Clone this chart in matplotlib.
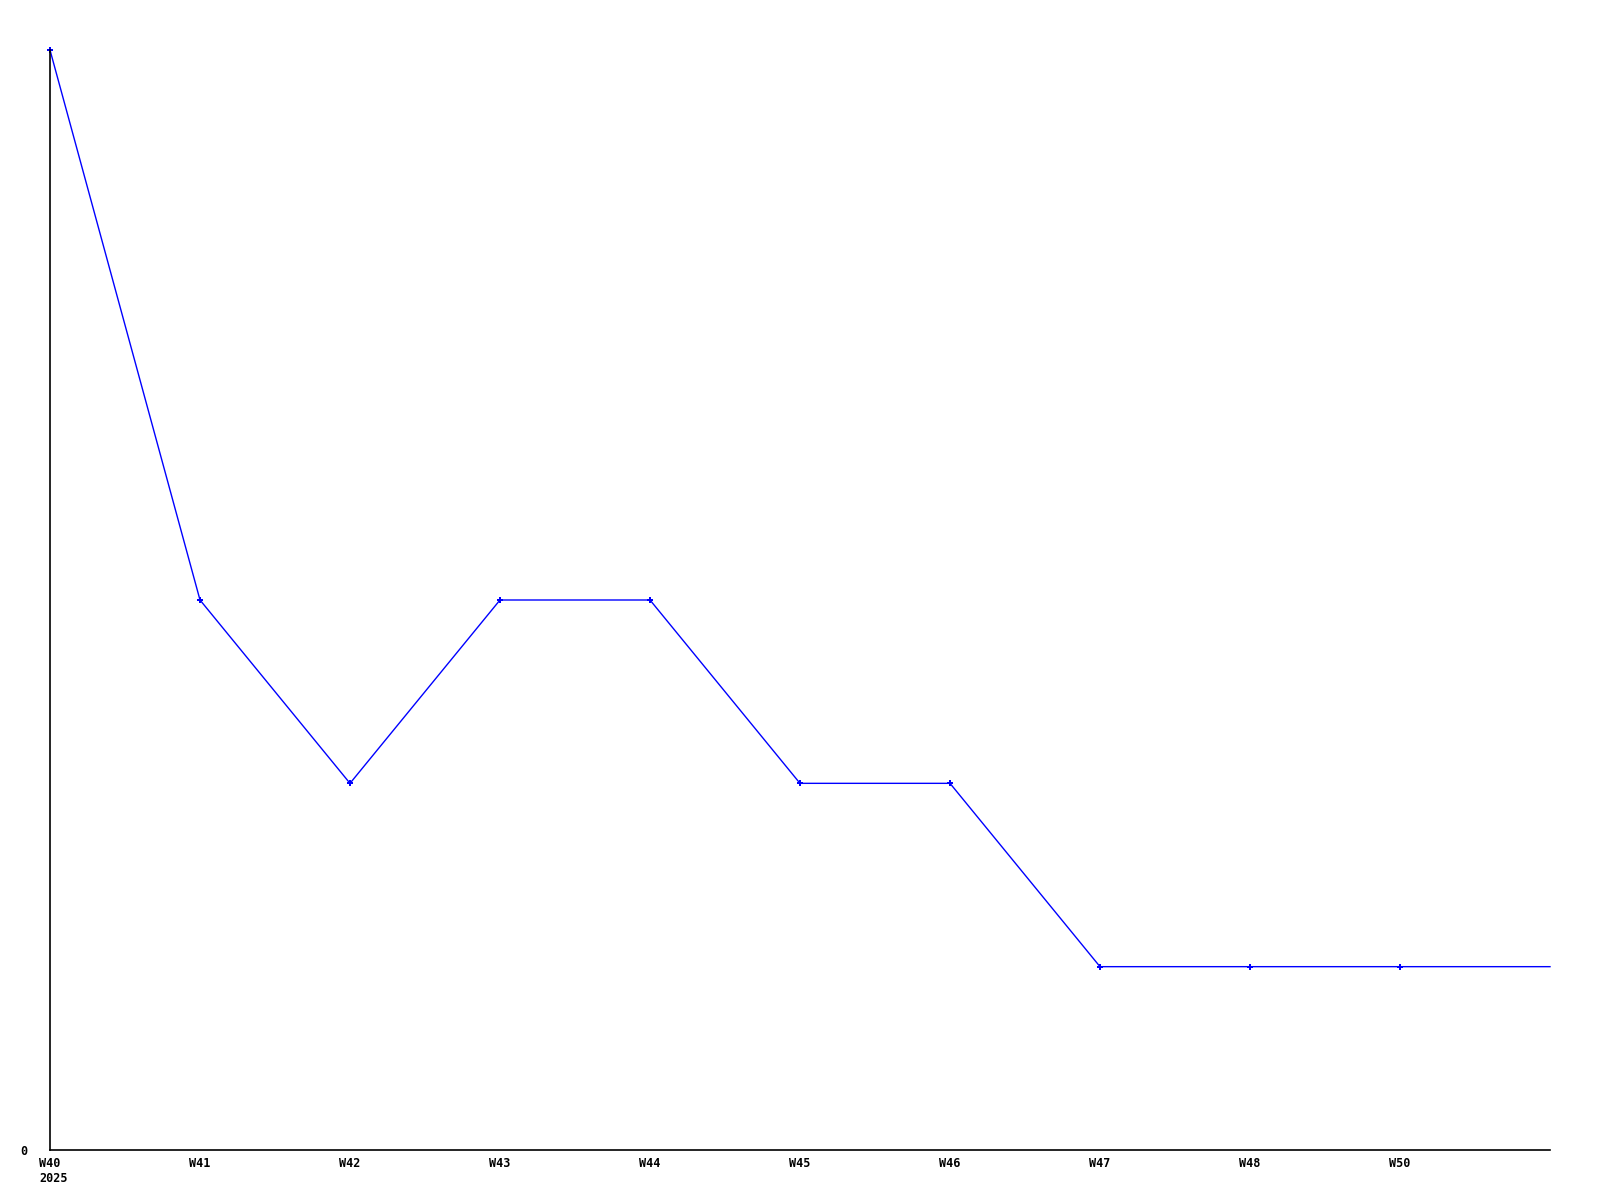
import numpy as np
from matplotlib import pyplot as plt

# weekly counts, last value is the running (current) week with no marker
weeks = ["W40", "W41", "W42", "W43", "W44", "W45", "W46", "W47", "W48", "W50"]
year = "2025"
values = [6, 3, 2, 3, 3, 2, 2, 1, 1, 1, 1]

x = np.arange(len(values))

fig = plt.figure(figsize=(16, 12), dpi=100)
ax = fig.add_axes([50 / 1600, 50 / 1200, 1500 / 1600, 1100 / 1200])

ax.plot(x, values, color="#0000ff", linewidth=1.0, marker="P", markersize=4.5,
        markeredgewidth=0, markevery=list(range(len(weeks))), clip_on=False)

ax.set_xlim(0, len(values) - 1)
ax.set_ylim(0, max(values))

for side in ("top", "right"):
    ax.spines[side].set_visible(False)
for side in ("left", "bottom"):
    ax.spines[side].set_color("black")
    ax.spines[side].set_linewidth(1.2)

font = dict(family="DejaVu Sans Mono", weight="bold", size=8.5)
ax.set_xticks(x[:len(weeks)])
ax.set_xticklabels(weeks, fontdict=font, va="top")
ax.set_yticks([0])
ax.set_yticklabels(["0"], fontdict=font)
ax.tick_params(axis="x", length=0, pad=5)
ax.tick_params(axis="y", length=0, pad=16)

# year under the first week, left-aligned with it
ax.annotate(year, xy=(x[0], 0), xycoords="data", xytext=(-10.7, -22.5),
            textcoords="offset pixels", ha="left", va="top",
            annotation_clip=False, **font)

fig.savefig("out.png", dpi=100)
